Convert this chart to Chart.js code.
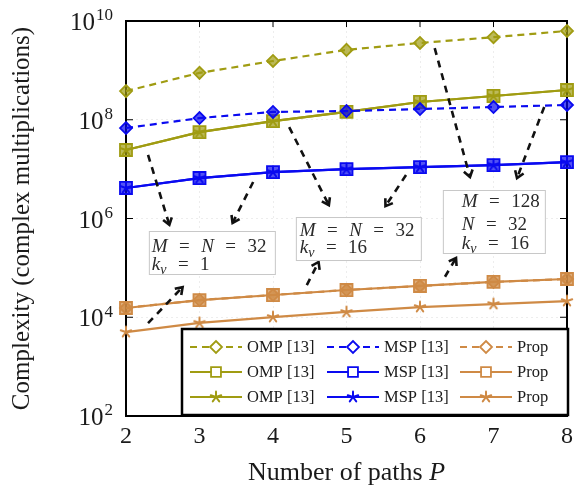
<!DOCTYPE html>
<html>
<head>
<meta charset="utf-8">
<script src="https://cdn.jsdelivr.net/npm/chart.js@4.4.1/dist/chart.umd.min.js"></script>
<style>
  html, body { margin: 0; background: #fff; }
  #wrap { width: 579px; height: 492px; }
</style>
</head>
<body>
<div id="wrap"><canvas id="cplx"></canvas></div>
<script>
// number of paths P
const paths = [2, 3, 4, 5, 6, 7, 8];

// M = 128, N = 32, k_nu = 16 (dashed, diamonds)
const ompM128  = [3.8e8, 8.9e8, 1.55e9, 2.6e9, 3.6e9, 4.7e9, 6.3e9];
const mspM128  = [6.8e7, 1.08e8, 1.44e8, 1.5e8, 1.65e8, 1.81e8, 1.99e8];
const propM128 = [1.54e4, 2.23e4, 2.82e4, 3.56e4, 4.3e4, 5.2e4, 5.95e4];

// M = N = 32, k_nu = 16 (solid, squares)
const omp32k16  = [2.44e7, 5.6e7, 9.4e7, 1.44e8, 2.29e8, 3.03e8, 4.0e8];
const msp32k16  = [4.15e6, 6.6e6, 8.7e6, 1.0e7, 1.1e7, 1.21e7, 1.39e7];
const prop32k16 = [1.54e4, 2.23e4, 2.82e4, 3.56e4, 4.3e4, 5.2e4, 5.95e4];

// M = N = 32, k_nu = 1 (solid, stars)
const omp32k1  = [2.44e7, 5.6e7, 9.4e7, 1.44e8, 2.29e8, 3.03e8, 4.0e8];
const msp32k1  = [4.15e6, 6.6e6, 8.7e6, 1.0e7, 1.1e7, 1.21e7, 1.39e7];
const prop32k1 = [5.0e3, 7.7e3, 1.01e4, 1.28e4, 1.61e4, 1.85e4, 2.13e4];

const yTickExps = [2, 4, 6, 8, 10];

const OLIVE = '#a09c12';
const BLUE = '#0a0af0';
const ORANGE = '#cf8a45';
const OLIVE_FILL = 'rgba(160,156,18,0.7)';
const BLUE_FILL = 'rgba(10,10,240,0.7)';
const ORANGE_FILL = 'rgba(207,138,69,0.7)';
const SERIF = '"Liberation Serif", "DejaVu Serif", serif';

// parameter boxes (x in P, y in log10) and arrows pointing at the curves
const notes = [
  { x: 2.311, y: 5.747, w: 126, h: 43, pad: 3, rows: [16, 34], lines: ['M = N = 32', 'k_ν = 1'] },
  { x: 4.311, y: 6.030, w: 125, h: 43, pad: 4, rows: [14, 31], lines: ['M = N = 32', 'k_ν = 16'] },
  { x: 6.311, y: 6.577, w: 102, h: 63, pad: 19, rows: [12, 35, 54], lines: ['M = 128', 'N = 32', 'k_ν = 16'] },
];
const arrows = [
  [2.30, 7.29, 2.59, 5.87],
  [3.73, 6.74, 3.45, 5.91],
  [4.22, 7.85, 4.76, 6.27],
  [5.81, 6.88, 5.53, 6.25],
  [6.20, 9.45, 6.68, 6.84],
  [7.69, 8.26, 7.32, 6.82],
  [2.30, 3.88, 2.77, 4.61],
  [4.46, 4.65, 4.62, 5.12],
  [6.34, 4.82, 6.49, 5.20],
];

// pgfplots-like five-ray star mark
function starMark(color) {
  const c = document.createElement('canvas');
  c.width = c.height = 14;
  const g = c.getContext('2d');
  g.strokeStyle = color;
  g.lineWidth = 2;
  g.lineCap = 'round';
  for (let k = 0; k < 5; k++) {
    const a = -Math.PI / 2 + k * 2 * Math.PI / 5;
    g.beginPath();
    g.moveTo(7, 7);
    g.lineTo(7 + 5.5 * Math.cos(a), 7 + 5.5 * Math.sin(a));
    g.stroke();
  }
  return c;
}

function series(label, values, color, fill, mark, dashed) {
  return {
    label,
    data: paths.map((p, i) => ({ x: p, y: values[i] })),
    borderColor: color,
    backgroundColor: 'rgba(0,0,0,0)',
    borderWidth: 2.2,
    borderDash: dashed ? [7, 5] : [],
    pointStyle: mark === 'star' ? starMark(color) : mark,
    pointRadius: mark === 'rectRot' ? 6 : 8.5,
    pointBorderWidth: 1.8,
    pointBorderColor: color,
    pointBackgroundColor: fill,
    tension: 0,
    clip: false,
  };
}

const datasets = [
  series('OMP [13]', ompM128, OLIVE, OLIVE_FILL, 'rectRot', true),
  series('MSP [13]', mspM128, BLUE, BLUE_FILL, 'rectRot', true),
  series('Prop', propM128, ORANGE, ORANGE_FILL, 'rectRot', true),
  series('OMP [13]', omp32k16, OLIVE, OLIVE_FILL, 'rect', false),
  series('MSP [13]', msp32k16, BLUE, BLUE_FILL, 'rect', false),
  series('Prop', prop32k16, ORANGE, ORANGE_FILL, 'rect', false),
  series('OMP [13]', omp32k1, OLIVE, OLIVE_FILL, 'star', false),
  series('MSP [13]', msp32k1, BLUE, BLUE_FILL, 'star', false),
  series('Prop', prop32k1, ORANGE, ORANGE_FILL, 'star', false),
];

// ------------------------------------------------------------
// math-ish text: italic letters, roman digits, spaced "=" and _subscripts
function drawMath(ctx, str, x, y, size) {
  let cx = x;
  ctx.textBaseline = 'middle';
  ctx.textAlign = 'left';
  for (const tok of str.split(' ')) {
    if (tok === '=') {
      ctx.font = `${size}px ${SERIF}`;
      cx += size * 0.6;
      ctx.fillText('=', cx, y);
      cx += ctx.measureText('=').width + size * 0.6;
    } else if (/^\d+$/.test(tok)) {
      ctx.font = `${size}px ${SERIF}`;
      ctx.fillText(tok, cx, y);
      cx += ctx.measureText(tok).width;
    } else {
      const [base, sub] = tok.split('_');
      ctx.font = `italic ${size}px ${SERIF}`;
      ctx.fillText(base, cx, y);
      cx += ctx.measureText(base).width;
      if (sub) {
        ctx.font = `italic ${Math.round(size * 0.72)}px ${SERIF}`;
        ctx.fillText(sub, cx, y + size * 0.28);
        cx += ctx.measureText(sub).width;
      }
    }
  }
}

function arrowHead(ctx, x0, y0, x1, y1) {
  const a = Math.atan2(y1 - y0, x1 - x0);
  const len = 8, spread = 0.6;
  ctx.setLineDash([]);
  ctx.beginPath();
  ctx.moveTo(x1 - len * Math.cos(a - spread), y1 - len * Math.sin(a - spread));
  ctx.lineTo(x1, y1);
  ctx.lineTo(x1 - len * Math.cos(a + spread), y1 - len * Math.sin(a + spread));
  ctx.stroke();
}

// frame and inward ticks
const framePlugin = {
  id: 'frame',
  beforeDatasetsDraw(chart) {
    const { ctx, chartArea: { left, right, top, bottom }, scales: { x, y } } = chart;
    ctx.save();
    ctx.strokeStyle = '#000';
    ctx.lineWidth = 1;
    x.ticks.forEach(t => {
      const px = x.getPixelForValue(t.value);
      ctx.beginPath();
      ctx.moveTo(px, top); ctx.lineTo(px, top + 6);
      ctx.moveTo(px, bottom); ctx.lineTo(px, bottom - 6);
      ctx.stroke();
    });
    y.ticks.forEach(t => {
      const py = y.getPixelForValue(t.value);
      ctx.beginPath();
      ctx.moveTo(left, py); ctx.lineTo(left + 7, py);
      ctx.moveTo(right, py); ctx.lineTo(right - 7, py);
      ctx.stroke();
    });
    ctx.lineWidth = 2;
    ctx.strokeRect(left, top, right - left, bottom - top);
    ctx.restore();
  },
};

// 10^n labels, axis titles, parameter boxes, arrows, legend
const overlayPlugin = {
  id: 'overlay',
  afterDraw(chart) {
    const { ctx, chartArea: { left, right, top, bottom }, scales: { x, y } } = chart;
    ctx.save();
    ctx.fillStyle = '#1a1a1a';

    // y tick labels with real superscripts
    y.ticks.forEach(t => {
      const py = y.getPixelForValue(t.value);
      const e = String(Math.round(Math.log10(t.value)));
      ctx.font = `17px ${SERIF}`;
      const ew = ctx.measureText(e).width;
      ctx.textAlign = 'right';
      ctx.textBaseline = 'middle';
      ctx.fillText(e, 113, py - 5);
      ctx.font = `25px ${SERIF}`;
      ctx.fillText('10', 113 - ew - 1, py + 2.5);
    });

    // axis titles
    ctx.textBaseline = 'middle';
    const t1 = 'Number of paths ';
    ctx.font = `italic 26px ${SERIF}`;
    const pw = ctx.measureText('P').width;
    ctx.font = `26px ${SERIF}`;
    const tw = ctx.measureText(t1).width + pw;
    const tx = (left + right) / 2 - tw / 2;
    ctx.textAlign = 'left';
    ctx.fillText(t1, tx, 473);
    ctx.font = `italic 26px ${SERIF}`;
    ctx.fillText('P', tx + tw - pw, 473);

    ctx.save();
    ctx.translate(22, (top + bottom) / 2);
    ctx.rotate(-Math.PI / 2);
    ctx.font = `25px ${SERIF}`;
    ctx.textAlign = 'center';
    ctx.fillText('Complexity (complex multiplications)', 0, 0);
    ctx.restore();

    // arrows
    ctx.strokeStyle = '#111';
    ctx.lineWidth = 2.6;
    arrows.forEach(([xa, ya, xb, yb]) => {
      const x0 = x.getPixelForValue(xa), y0 = y.getPixelForValue(10 ** ya);
      const x1 = x.getPixelForValue(xb), y1 = y.getPixelForValue(10 ** yb);
      ctx.setLineDash([7, 6]);
      ctx.beginPath();
      ctx.moveTo(x0, y0);
      ctx.lineTo(x1, y1);
      ctx.stroke();
      arrowHead(ctx, x0, y0, x1, y1);
    });

    // parameter boxes
    notes.forEach(n => {
      const bx = x.getPixelForValue(n.x), by = y.getPixelForValue(10 ** n.y);
      ctx.fillStyle = '#fff';
      ctx.fillRect(bx, by, n.w, n.h);
      ctx.strokeStyle = '#c8c8c8';
      ctx.lineWidth = 1;
      ctx.setLineDash([]);
      ctx.strokeRect(bx + 0.5, by + 0.5, n.w, n.h);
      ctx.fillStyle = '#2a2a2a';
      n.lines.forEach((ln, i) => drawMath(ctx, ln, bx + n.pad, by + n.rows[i], 19));
    });

    // legend: rows = line style, columns = method
    const lx = 182, ly = 329, lw = 386, lh = 86;
    ctx.fillStyle = '#fff';
    ctx.fillRect(lx, ly, lw, lh);
    ctx.strokeStyle = '#000';
    ctx.lineWidth = 2.5;
    ctx.strokeRect(lx, ly, lw, lh);
    const colX = [8, 145, 278];
    chart.data.datasets.forEach((ds, i) => {
      const row = Math.floor(i / 3), col = i % 3;
      const sx = lx + colX[col], sy = ly + 18 + row * 25;
      ctx.strokeStyle = ds.borderColor;
      ctx.lineWidth = ds.borderWidth;
      ctx.setLineDash(ds.borderDash);
      ctx.beginPath();
      ctx.moveTo(sx, sy);
      ctx.lineTo(sx + 52, sy);
      ctx.stroke();
      ctx.setLineDash([]);
      ctx.fillStyle = '#fff';
      ctx.lineWidth = ds.pointBorderWidth;
      Chart.helpers.drawPoint(ctx, {
        pointStyle: ds.pointStyle,
        radius: ds.pointStyle === 'rect' ? 7 : ds.pointRadius,
        borderWidth: ds.pointBorderWidth,
        rotation: 0,
      }, sx + 26, sy);
      ctx.fillStyle = '#1a1a1a';
      ctx.font = `16.5px ${SERIF}`;
      ctx.textAlign = 'left';
      ctx.textBaseline = 'middle';
      ctx.fillText(ds.label, sx + 57, sy + 1);
    });
    ctx.restore();
  },
};

new Chart(document.getElementById('cplx'), {
  type: 'line',
  data: { datasets },
  options: {
    responsive: true,
    maintainAspectRatio: false,
    animation: false,
    events: [],
    layout: { padding: { top: 21, right: 9, left: 0, bottom: 0 } },
    plugins: { legend: { display: false }, tooltip: { enabled: false } },
    scales: {
      x: {
        type: 'linear', min: 2, max: 8,
        grid: { color: 'rgba(0,0,0,0.07)', drawTicks: false },
        border: { display: false, dash: [2, 3] },
        ticks: { stepSize: 1, padding: 6, color: '#1a1a1a', font: { family: SERIF, size: 24 } },
        afterFit(s) { s.height = 76; },
      },
      y: {
        type: 'logarithmic', min: 1e2, max: 1e10,
        grid: { color: 'rgba(0,0,0,0.07)', drawTicks: false },
        border: { display: false, dash: [2, 3] },
        ticks: { display: false },
        afterBuildTicks(s) { s.ticks = yTickExps.map(e => ({ value: 10 ** e })); },
        afterFit(s) { s.width = 126; },
      },
    },
  },
  plugins: [framePlugin, overlayPlugin],
});
</script>
</body>
</html>
